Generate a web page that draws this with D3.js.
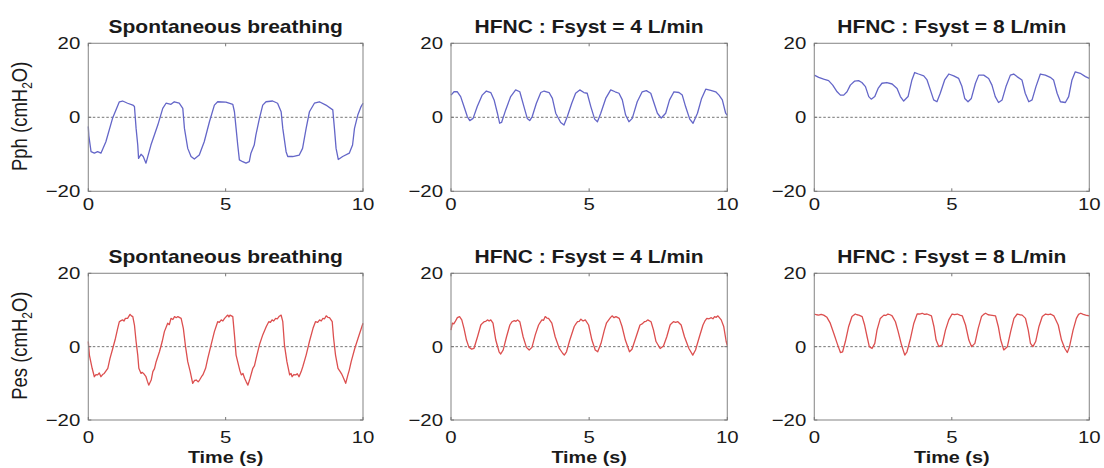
<!DOCTYPE html>
<html><head><meta charset="utf-8">
<script src="https://cdn.jsdelivr.net/npm/d3@7/dist/d3.min.js"></script>
<style>html,body{margin:0;padding:0;background:#fff;}svg{display:block;}</style>
</head><body>
<script>
// ---- data (time s, pressure cmH2O) ----
const panelTitles = ["Spontaneous breathing", "HFNC : Fsyst = 4 L/min", "HFNC : Fsyst = 8 L/min"];
const rowLabels = ["Pph", "Pes"];
const xTicks = [0, 5, 10];
const yTicks = [-20, 0, 20];
const xLabel = "Time (s)";

const pphSpontaneous = [[0,-2.5],[0.02,-5],[0.1,-9.3],[0.22,-9.7],[0.34,-9.3],[0.46,-9.7],[0.64,-6.6],[0.89,-0.1],[1.13,4.2],[1.25,4.4],[1.43,3.8],[1.62,3.3],[1.68,2.9],[1.74,-3.0],[1.80,-7.5],[1.83,-11.1],[1.92,-10.0],[2.0,-10.6],[2.1,-12.4],[2.28,-7.5],[2.53,-2.1],[2.71,2.4],[2.83,3.8],[3.01,3.5],[3.13,4.2],[3.31,3.8],[3.44,2.4],[3.50,-3.0],[3.62,-8.4],[3.74,-10.6],[3.86,-11.3],[4.04,-10.2],[4.22,-6.6],[4.41,-1.2],[4.59,3.3],[4.71,4.2],[5.01,4.1],[5.26,3.5],[5.32,1.5],[5.38,-3.0],[5.44,-7.5],[5.50,-11.5],[5.62,-12.0],[5.74,-12.4],[5.86,-12.0],[5.92,-9.7],[6.04,-7.5],[6.10,-4.8],[6.23,-0.3],[6.35,3.3],[6.47,4.2],[6.71,4.4],[6.89,3.8],[7.02,1.5],[7.08,-3.0],[7.20,-9.3],[7.26,-10.6],[7.44,-10.6],[7.68,-10.2],[7.80,-8.4],[7.93,-3.0],[8.05,1.5],[8.23,3.8],[8.41,4.2],[8.65,3.3],[8.90,2.0],[8.96,-3.0],[9.02,-8.4],[9.10,-11.4],[9.26,-10.6],[9.50,-9.7],[9.62,-7.5],[9.69,-3.0],[9.81,0.6],[9.93,2.9],[10.0,3.8]];

const pphHfnc4 = [[0,6.0],[0.11,6.9],[0.23,6.9],[0.35,5.6],[0.47,2.9],[0.59,0.2],[0.68,-0.9],[0.80,-0.3],[0.95,2.9],[1.13,6.0],[1.28,7.1],[1.44,6.7],[1.56,4.7],[1.68,1.1],[1.76,-1.6],[1.83,-1.4],[1.98,2.0],[2.16,5.6],[2.34,7.4],[2.49,6.9],[2.64,2.9],[2.76,-0.3],[2.85,-0.9],[2.94,0.2],[3.09,3.8],[3.25,6.7],[3.37,7.1],[3.55,6.7],[3.67,5.1],[3.79,1.1],[3.97,-1.4],[4.09,-2.1],[4.21,0.2],[4.37,3.8],[4.51,6.5],[4.66,7.4],[4.81,6.7],[4.93,6.5],[5.06,2.9],[5.20,-0.5],[5.30,-1.2],[5.42,1.1],[5.60,5.1],[5.78,7.4],[5.94,6.9],[6.08,6.5],[6.20,4.7],[6.32,0.6],[6.44,-1.2],[6.56,-0.3],[6.74,4.2],[6.92,6.9],[7.07,7.2],[7.23,6.5],[7.35,3.8],[7.47,1.1],[7.61,-0.2],[7.77,1.1],[7.91,4.7],[8.07,6.9],[8.25,6.7],[8.37,6.0],[8.49,2.9],[8.64,-0.5],[8.76,-1.6],[8.92,1.1],[9.07,5.1],[9.22,7.6],[9.40,7.3],[9.58,6.9],[9.70,6.0],[9.82,4.7],[9.94,1.1],[10,0.5]];

const pphHfnc8 = [[0,11.4],[0.16,10.8],[0.34,10.3],[0.52,9.9],[0.67,8.7],[0.83,6.9],[0.95,6.0],[1.07,6.0],[1.19,6.9],[1.31,8.7],[1.47,9.8],[1.61,9.9],[1.73,9.4],[1.86,8.3],[1.98,5.6],[2.07,4.9],[2.20,5.6],[2.32,7.8],[2.46,9.2],[2.64,9.4],[2.83,9.0],[3.01,7.8],[3.13,5.6],[3.25,4.4],[3.41,5.6],[3.55,10.1],[3.65,12.1],[3.79,11.7],[3.98,11.2],[4.10,10.1],[4.22,7.4],[4.34,4.7],[4.46,4.2],[4.58,6.5],[4.74,10.1],[4.89,11.7],[5.07,11.2],[5.25,10.5],[5.37,8.3],[5.47,5.1],[5.59,4.2],[5.71,5.1],[5.86,9.2],[5.98,11.4],[6.16,11.4],[6.34,10.5],[6.46,8.7],[6.58,5.6],[6.70,4.0],[6.83,4.7],[6.97,8.3],[7.13,11.4],[7.25,11.7],[7.37,11.0],[7.55,10.1],[7.67,6.5],[7.80,4.2],[7.92,4.7],[8.06,8.3],[8.22,11.7],[8.40,11.4],[8.58,10.8],[8.70,10.1],[8.83,6.5],[8.95,4.2],[9.13,4.0],[9.25,5.6],[9.37,10.1],[9.49,12.3],[9.67,11.9],[9.86,11.0],[10,10.5]];

const pesSpontaneous = [[0,1.4],[0.04,-2.3],[0.14,-5.9],[0.22,-8.2],[0.28,-7.6],[0.34,-7.7],[0.40,-7.2],[0.46,-8.2],[0.52,-7.6],[0.58,-7.3],[0.71,-5.9],[0.79,-3.2],[0.89,-0.5],[0.99,2.3],[1.07,5.0],[1.13,6.8],[1.19,7.1],[1.25,7.3],[1.30,7.0],[1.35,7.7],[1.43,7.7],[1.48,8.3],[1.52,8.8],[1.57,8.4],[1.62,8.2],[1.68,5.9],[1.74,1.4],[1.80,-2.3],[1.84,-5.9],[1.92,-7.3],[1.96,-7.0],[2.01,-7.3],[2.10,-8.2],[2.15,-9.4],[2.20,-10.5],[2.29,-9.1],[2.35,-6.8],[2.41,-6.0],[2.47,-4.1],[2.59,-1.4],[2.69,1.4],[2.77,4.1],[2.89,6.4],[2.95,6.0],[3.01,7.7],[3.08,7.4],[3.14,8.2],[3.20,7.9],[3.26,8.2],[3.38,7.7],[3.46,5.0],[3.54,0.0],[3.62,-4.1],[3.71,-6.8],[3.80,-10.0],[3.87,-9.2],[3.93,-9.1],[4.00,-9.6],[4.05,-9.1],[4.12,-8.2],[4.17,-7.7],[4.27,-5.9],[4.35,-3.2],[4.47,0.5],[4.59,4.1],[4.71,6.8],[4.77,6.6],[4.84,7.3],[4.90,7.0],[4.96,7.7],[5.02,8.2],[5.08,8.6],[5.12,8.1],[5.16,8.6],[5.26,8.2],[5.32,3.2],[5.38,-2.3],[5.48,-5.4],[5.52,-6.6],[5.57,-7.7],[5.63,-7.3],[5.69,-8.6],[5.75,-9.6],[5.81,-10.5],[5.89,-8.6],[5.99,-5.9],[6.05,-5.2],[6.11,-3.2],[6.23,0.5],[6.35,3.2],[6.48,5.5],[6.57,6.8],[6.63,6.6],[6.69,7.3],[6.75,7.0],[6.82,7.7],[6.88,7.6],[6.94,8.2],[7.02,8.6],[7.08,6.8],[7.14,0.5],[7.23,-4.1],[7.33,-7.7],[7.38,-7.3],[7.42,-8.2],[7.48,-7.6],[7.55,-7.7],[7.61,-7.4],[7.67,-8.2],[7.75,-6.8],[7.81,-5.4],[7.93,-2.3],[8.05,1.4],[8.18,5.0],[8.27,6.8],[8.35,6.6],[8.42,7.3],[8.48,7.0],[8.54,7.7],[8.60,7.6],[8.66,8.4],[8.72,8.0],[8.78,7.9],[8.88,6.8],[8.93,2.3],[9.0,-2.3],[9.09,-5.9],[9.17,-6.8],[9.22,-7.4],[9.27,-8.2],[9.37,-10.0],[9.45,-7.7],[9.50,-6.4],[9.57,-4.1],[9.70,-0.5],[9.82,2.3],[9.94,5.0],[10,6.4]];

const pesHfnc4 = [[0,4.5],[0.05,6.4],[0.10,6.2],[0.15,6.8],[0.23,7.9],[0.31,8.2],[0.39,7.3],[0.47,5.0],[0.56,1.8],[0.65,-0.2],[0.70,-0.4],[0.75,-0.7],[0.83,-0.5],[0.96,2.7],[1.08,5.9],[1.14,6.4],[1.20,6.8],[1.26,6.9],[1.32,7.3],[1.38,7.0],[1.44,7.3],[1.52,6.4],[1.62,1.8],[1.74,-1.4],[1.80,-2.0],[1.89,-0.9],[2.01,2.7],[2.13,5.9],[2.21,6.8],[2.29,7.1],[2.35,6.9],[2.41,7.3],[2.49,6.8],[2.61,2.7],[2.73,-0.2],[2.83,-0.9],[2.93,-0.2],[3.05,3.2],[3.17,5.9],[3.23,6.6],[3.29,7.3],[3.35,7.2],[3.41,8.2],[3.47,7.8],[3.53,7.7],[3.65,6.4],[3.77,2.7],[3.92,-0.5],[4.04,-1.8],[4.10,-2.3],[4.18,-1.4],[4.30,1.8],[4.46,5.5],[4.52,6.2],[4.58,6.8],[4.64,6.9],[4.70,7.5],[4.78,7.0],[4.86,7.3],[4.98,5.9],[5.10,1.8],[5.22,-0.9],[5.31,-1.4],[5.43,0.9],[5.55,4.5],[5.63,6.5],[5.71,7.3],[5.77,7.9],[5.83,8.4],[5.90,7.9],[5.97,8.2],[6.09,7.7],[6.19,5.5],[6.31,1.8],[6.46,-1.4],[6.55,-0.7],[6.70,2.7],[6.84,5.9],[6.92,6.2],[7.0,6.8],[7.06,6.9],[7.12,7.3],[7.24,6.8],[7.33,4.5],[7.42,1.4],[7.57,-0.5],[7.69,0.2],[7.81,2.7],[7.93,5.9],[7.99,6.4],[8.05,6.8],[8.13,6.6],[8.21,6.8],[8.33,5.9],[8.45,2.7],[8.61,-0.5],[8.75,-2.3],[8.85,-0.9],[8.99,2.7],[9.12,5.9],[9.19,7.0],[9.26,7.7],[9.34,7.6],[9.42,7.9],[9.48,7.6],[9.54,8.2],[9.60,8.0],[9.66,8.4],[9.78,7.3],[9.87,5.5],[9.96,1.4],[10,0.3]];

const pesHfnc8 = [[0,8.9],[0.08,8.7],[0.16,8.6],[0.25,8.8],[0.34,8.6],[0.46,8.0],[0.58,6.4],[0.71,3.6],[0.83,0.9],[0.95,-1.6],[1.03,-1.4],[1.13,1.4],[1.25,5.5],[1.37,8.2],[1.49,8.9],[1.55,8.7],[1.62,8.6],[1.74,8.2],[1.83,5.9],[1.92,2.7],[2.0,0.0],[2.10,-0.5],[2.20,0.9],[2.28,4.5],[2.40,7.7],[2.53,8.6],[2.60,8.5],[2.68,8.9],[2.76,8.7],[2.83,8.4],[2.95,6.8],[3.05,4.1],[3.17,0.5],[3.29,-2.3],[3.37,-1.4],[3.50,2.3],[3.62,6.4],[3.74,8.9],[3.83,8.9],[3.92,9.1],[4.01,8.8],[4.10,8.9],[4.26,8.4],[4.35,5.5],[4.43,1.8],[4.53,0.0],[4.65,0.5],[4.77,4.5],[4.89,7.3],[5.01,8.9],[5.10,8.7],[5.20,8.9],[5.29,8.6],[5.38,8.4],[5.50,5.9],[5.62,1.8],[5.72,0.0],[5.84,0.9],[5.96,5.0],[6.08,8.2],[6.16,8.8],[6.23,9.1],[6.32,8.7],[6.41,8.6],[6.59,8.4],[6.69,5.5],[6.78,1.8],[6.89,-0.9],[7.02,0.0],[7.14,4.1],[7.26,7.7],[7.38,8.9],[7.47,8.7],[7.56,8.6],[7.68,7.7],[7.78,4.5],[7.86,0.9],[7.95,0.0],[8.05,1.4],[8.17,5.5],[8.29,8.2],[8.41,8.9],[8.50,8.7],[8.59,8.9],[8.71,8.4],[8.87,5.9],[8.99,1.8],[9.11,-0.5],[9.20,-1.6],[9.28,0.0],[9.41,4.5],[9.53,7.7],[9.61,8.8],[9.69,9.1],[9.78,8.8],[9.87,8.6],[10,8.4]];

const rowSeries = [[pphSpontaneous, pphHfnc4, pphHfnc8], [pesSpontaneous, pesHfnc4, pesHfnc8]];
const rowColors = ["#6466c8", "#dc4f4f"];

// ---- layout ----
const W = 1104, H = 468;
const colX = [[88.3, 363], [451, 727.3], [814.3, 1089.3]];
const rowY = [[43.3, 191.3], [273.3, 420]];
const SX = 1.2; // horizontal stretch of text in the reference
const FONT = "'Liberation Sans', Arial, Helvetica, sans-serif";

const svg = d3.select("body").append("svg").attr("width", W).attr("height", H);
svg.append("rect").attr("width", W).attr("height", H).attr("fill", "#fff");

function stext(g, x, y, str, opts) {
  const t = g.append("text")
    .attr("transform", `translate(${x},${y}) scale(${SX},1)`)
    .attr("font-family", FONT)
    .attr("font-size", opts.size || 17)
    .attr("font-weight", opts.bold ? "bold" : "normal")
    .attr("text-anchor", opts.anchor || "middle")
    .attr("fill", opts.fill || "#1a1a1a")
    .text(str);
  return t;
}

rowSeries.forEach((series, r) => {
  const [y0, y1] = rowY[r];
  const y = d3.scaleLinear().domain([-20, 20]).range([y1, y0]);
  series.forEach((data, c) => {
    const [x0, x1] = colX[c];
    const x = d3.scaleLinear().domain([0, 10]).range([x0, x1]);
    const g = svg.append("g");

    // zero reference line
    g.append("line").attr("x1", x(0)).attr("x2", x(10)).attr("y1", y(0)).attr("y2", y(0))
      .attr("stroke", "#666").attr("stroke-width", 0.9).attr("stroke-dasharray", "2.5,2");

    // signal
    const line = d3.line().x(d => x(d[0])).y(d => y(d[1]));
    g.append("path").datum(data).attr("d", line)
      .attr("fill", "none").attr("stroke", rowColors[r]).attr("stroke-width", 1.3)
      .attr("stroke-linejoin", "round");

    // box
    g.append("rect").attr("x", x(0)).attr("y", y(20)).attr("width", x(10) - x(0)).attr("height", y(-20) - y(20))
      .attr("fill", "none").attr("stroke", "#8f8f8f").attr("stroke-width", 1.1);

    // inward ticks
    const ax = g.append("g").attr("stroke", "#777").attr("stroke-width", 1);
    xTicks.forEach(t => {
      ax.append("line").attr("x1", x(t)).attr("x2", x(t)).attr("y1", y(-20)).attr("y2", y(-20) - 3);
      ax.append("line").attr("x1", x(t)).attr("x2", x(t)).attr("y1", y(20)).attr("y2", y(20) + 3);
    });
    yTicks.forEach(t => {
      ax.append("line").attr("x1", x(0)).attr("x2", x(0) + 3).attr("y1", y(t)).attr("y2", y(t));
      ax.append("line").attr("x1", x(10)).attr("x2", x(10) - 3).attr("y1", y(t)).attr("y2", y(t));
    });

    // tick labels
    yTicks.forEach(t => {
      stext(g, x(0) - 8, y(t) + 6, d3.format("d")(t), {anchor: "end", size: 17});
    });
    xTicks.forEach(t => {
      stext(g, x(t), y(-20) + (r === 0 ? 19 : 23), d3.format("d")(t), {anchor: "middle", size: 17});
    });

    // title
    stext(g, (x(0) + x(10)) / 2, y(20) - 10, panelTitles[c], {bold: true, size: 17.5});

    if (r === 1) {
      stext(g, (x(0) + x(10)) / 2, y(-20) + 43, xLabel, {bold: true, size: 16.5});
    }
  });

  // row y-axis label (rotated) with subscript
  const cy = (y0 + y1) / 2;
  const lab = svg.append("text")
    .attr("transform", `translate(27,${cy - 1}) rotate(-90) scale(1,${SX})`)
    .attr("font-family", FONT).attr("font-size", 18.5).attr("text-anchor", "middle").attr("fill", "#1a1a1a");
  lab.append("tspan").text(rowLabels[r] + " (cmH");
  lab.append("tspan").attr("font-size", 12).attr("dy", 4).text("2");
  lab.append("tspan").attr("dy", -4).text("O)");
});
</script>
</body></html>
